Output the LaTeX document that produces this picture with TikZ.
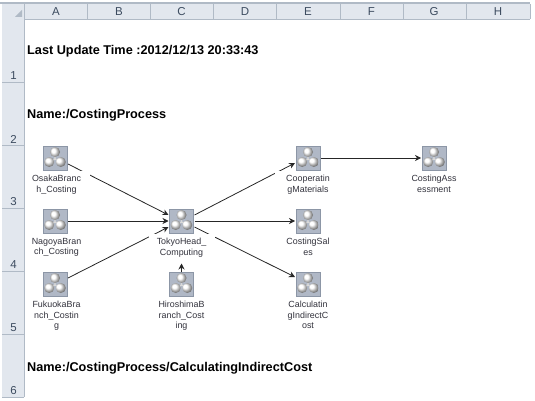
\documentclass[tikz,border=0pt]{standalone}
\usepackage{fontspec}
\setmainfont{Liberation Sans}
\usepackage{tikz}
\usetikzlibrary{arrows.meta,positioning,calc}
\definecolor{headbar}{RGB}{226,231,238}
\definecolor{headline}{RGB}{176,186,198}
\definecolor{headtext}{RGB}{60,75,95}
\definecolor{iconfill}{RGB}{176,184,198}
\definecolor{iconedge}{RGB}{140,150,166}
\definecolor{labeltext}{RGB}{50,50,60}
\newcommand{\colhead}[2]{\node[headcell] (col#1) at (#2,11.5) {#1};}
\newcommand{\rowhead}[2]{\node[headcell] (row#1) at (13.5,#2) {#1};}

\begin{document}
\begin{tikzpicture}[
  x=1pt, y=-1pt,
  node distance=39pt and 102.5pt,
  headcell/.style={font=\fontsize{11.5}{11.5}\selectfont, text=headtext, inner sep=0pt},
  titletext/.style={font=\fontsize{12.7}{12.7}\selectfont\bfseries, anchor=west, inner sep=0pt},
  proc/.style={draw=iconedge, fill=iconfill, minimum size=24pt, inner sep=0pt, outer sep=0pt, line width=.6pt,
    path picture={
      \draw[white!85!black, line width=1.2pt] (path picture bounding box.center) ++(0,4pt) -- ++(0,-5pt) -- ++(-5.5pt,-3pt) ++(5.5pt,3pt) -- ++(5.5pt,-3pt);
      \shade[ball color=white] (path picture bounding box.center) ++(0,6pt) circle (5pt);
      \shade[ball color=white] (path picture bounding box.center) ++(-5.8pt,-4pt) circle (5pt);
      \shade[ball color=white] (path picture bounding box.center) ++(5.8pt,-4pt) circle (5pt);
    }},
  caption/.style={fill=white, text=labeltext, align=center, inner xsep=0pt, inner ysep=5pt, outer sep=0pt,
    minimum width=66pt, below=0.5pt of #1.south,
    font=\fontsize{8.9}{10.3}\selectfont},
  arrow/.style={-{Stealth[length=6pt,width=6pt]}, line width=.8pt, black!85},
]
  \useasboundingbox (0,0) rectangle (535,401);

  \node[titletext] (updated) at (27,51.5) {Last Update Time :2012/12/13 20:33:43};
  \node[titletext] (name) at (27,115) {Name:/CostingProcess};
  \node[titletext] (subname) at (27,368) {Name:/CostingProcess/CalculatingIndirectCost};

  % process icons
  \node[proc] (osaka) at (55,158) {};
  \node[proc, below=of osaka] (nagoya) {};
  \node[proc, below=of nagoya] (fukuoka) {};
  \node[proc, right=of nagoya] (tokyo) {};
  \node[proc, below=of tokyo] (hiroshima) {};
  \node[proc, right=of tokyo] (sales) {};
  \node[proc, above=of sales] (cooperating) {};
  \node[proc, below=of sales] (calculating) {};
  \node[proc, right=102pt of cooperating] (assessment) {};

  \coordinate (tokyohead) at ($(tokyo.south)+(0,-30.5pt)$);

  % connectors go under the captions
  \draw[arrow] ([yshift=-6pt,xshift=1pt]osaka.east) -- ([yshift=6pt,xshift=-1pt]tokyo.west);
  \draw[arrow] ([xshift=1pt]nagoya.east) -- ([xshift=-1pt]tokyo.west);
  \draw[arrow] ([yshift=6pt,xshift=1pt]fukuoka.east) -- ([yshift=-6pt,xshift=-1pt]tokyo.west);
  \draw[arrow] (hiroshima.north) -- (tokyohead);
  \draw[arrow] ([yshift=6pt,xshift=1pt]tokyo.east) -- ([yshift=-5pt,xshift=-1pt]cooperating.west);
  \draw[arrow] ([xshift=1pt]tokyo.east) -- ([xshift=-1pt]sales.west);
  \draw[arrow] ([yshift=-6pt,xshift=1pt]tokyo.east) -- ([yshift=7pt,xshift=-1pt]calculating.west);
  \draw[arrow] ([xshift=1pt]cooperating.east) -- ([xshift=-1pt]assessment.west);

  \node[caption=osaka, xshift=1.5pt] (osakaname) {OsakaBranc\\h\_Costing};
  \node[caption=nagoya, xshift=1.5pt] (nagoyaname) {NagoyaBran\\ch\_Costing};
  \node[caption=fukuoka, xshift=1.5pt] (fukuokaname) {FukuokaBra\\nch\_Costin\\g};
  \node[caption=tokyo] (tokyoname) {TokyoHead\_\\Computing};
  \node[caption=hiroshima] (hiroshimaname) {HiroshimaB\\ranch\_Cost\\ing};
  \node[caption=cooperating] (cooperatingname) {Cooperatin\\gMaterials};
  \node[caption=sales] (salesname) {CostingSal\\es};
  \node[caption=calculating] (calculatingname) {Calculatin\\gIndirectC\\ost};
  \node[caption=assessment] (assessmentname) {CostingAss\\essment};

  % header bars
  \fill[headbar] (2,3) rectangle (530,19);
  \fill[headbar] (2,19) rectangle (24,397);
  \draw[headline, line width=1.2pt] (0,3) -- (530,3);
  \draw[headline, line width=.8pt] (24,19) -- (530,19) (24.5,3) -- (24.5,397);
  \foreach \x in {87.5,150,213,276.7,340,403,466,530}
    \draw[headline, line width=.6pt] (\x,4) -- (\x,19);
  \foreach \y in {82.7,145,208,271,334,397}
    \draw[headline, line width=.8pt] (2,\y) -- (24,\y);
  \fill[headline] (22,10) -- (22,17) -- (15,17) -- cycle;
  \colhead{A}{56}
  \colhead{B}{119}
  \colhead{C}{181.5}
  \colhead{D}{245}
  \colhead{E}{308}
  \colhead{F}{371.5}
  \colhead{G}{434}
  \colhead{H}{498}
  \rowhead{1}{76}
  \rowhead{2}{139}
  \rowhead{3}{202}
  \rowhead{4}{265}
  \rowhead{5}{328}
  \rowhead{6}{391}
\end{tikzpicture}
\end{document}
